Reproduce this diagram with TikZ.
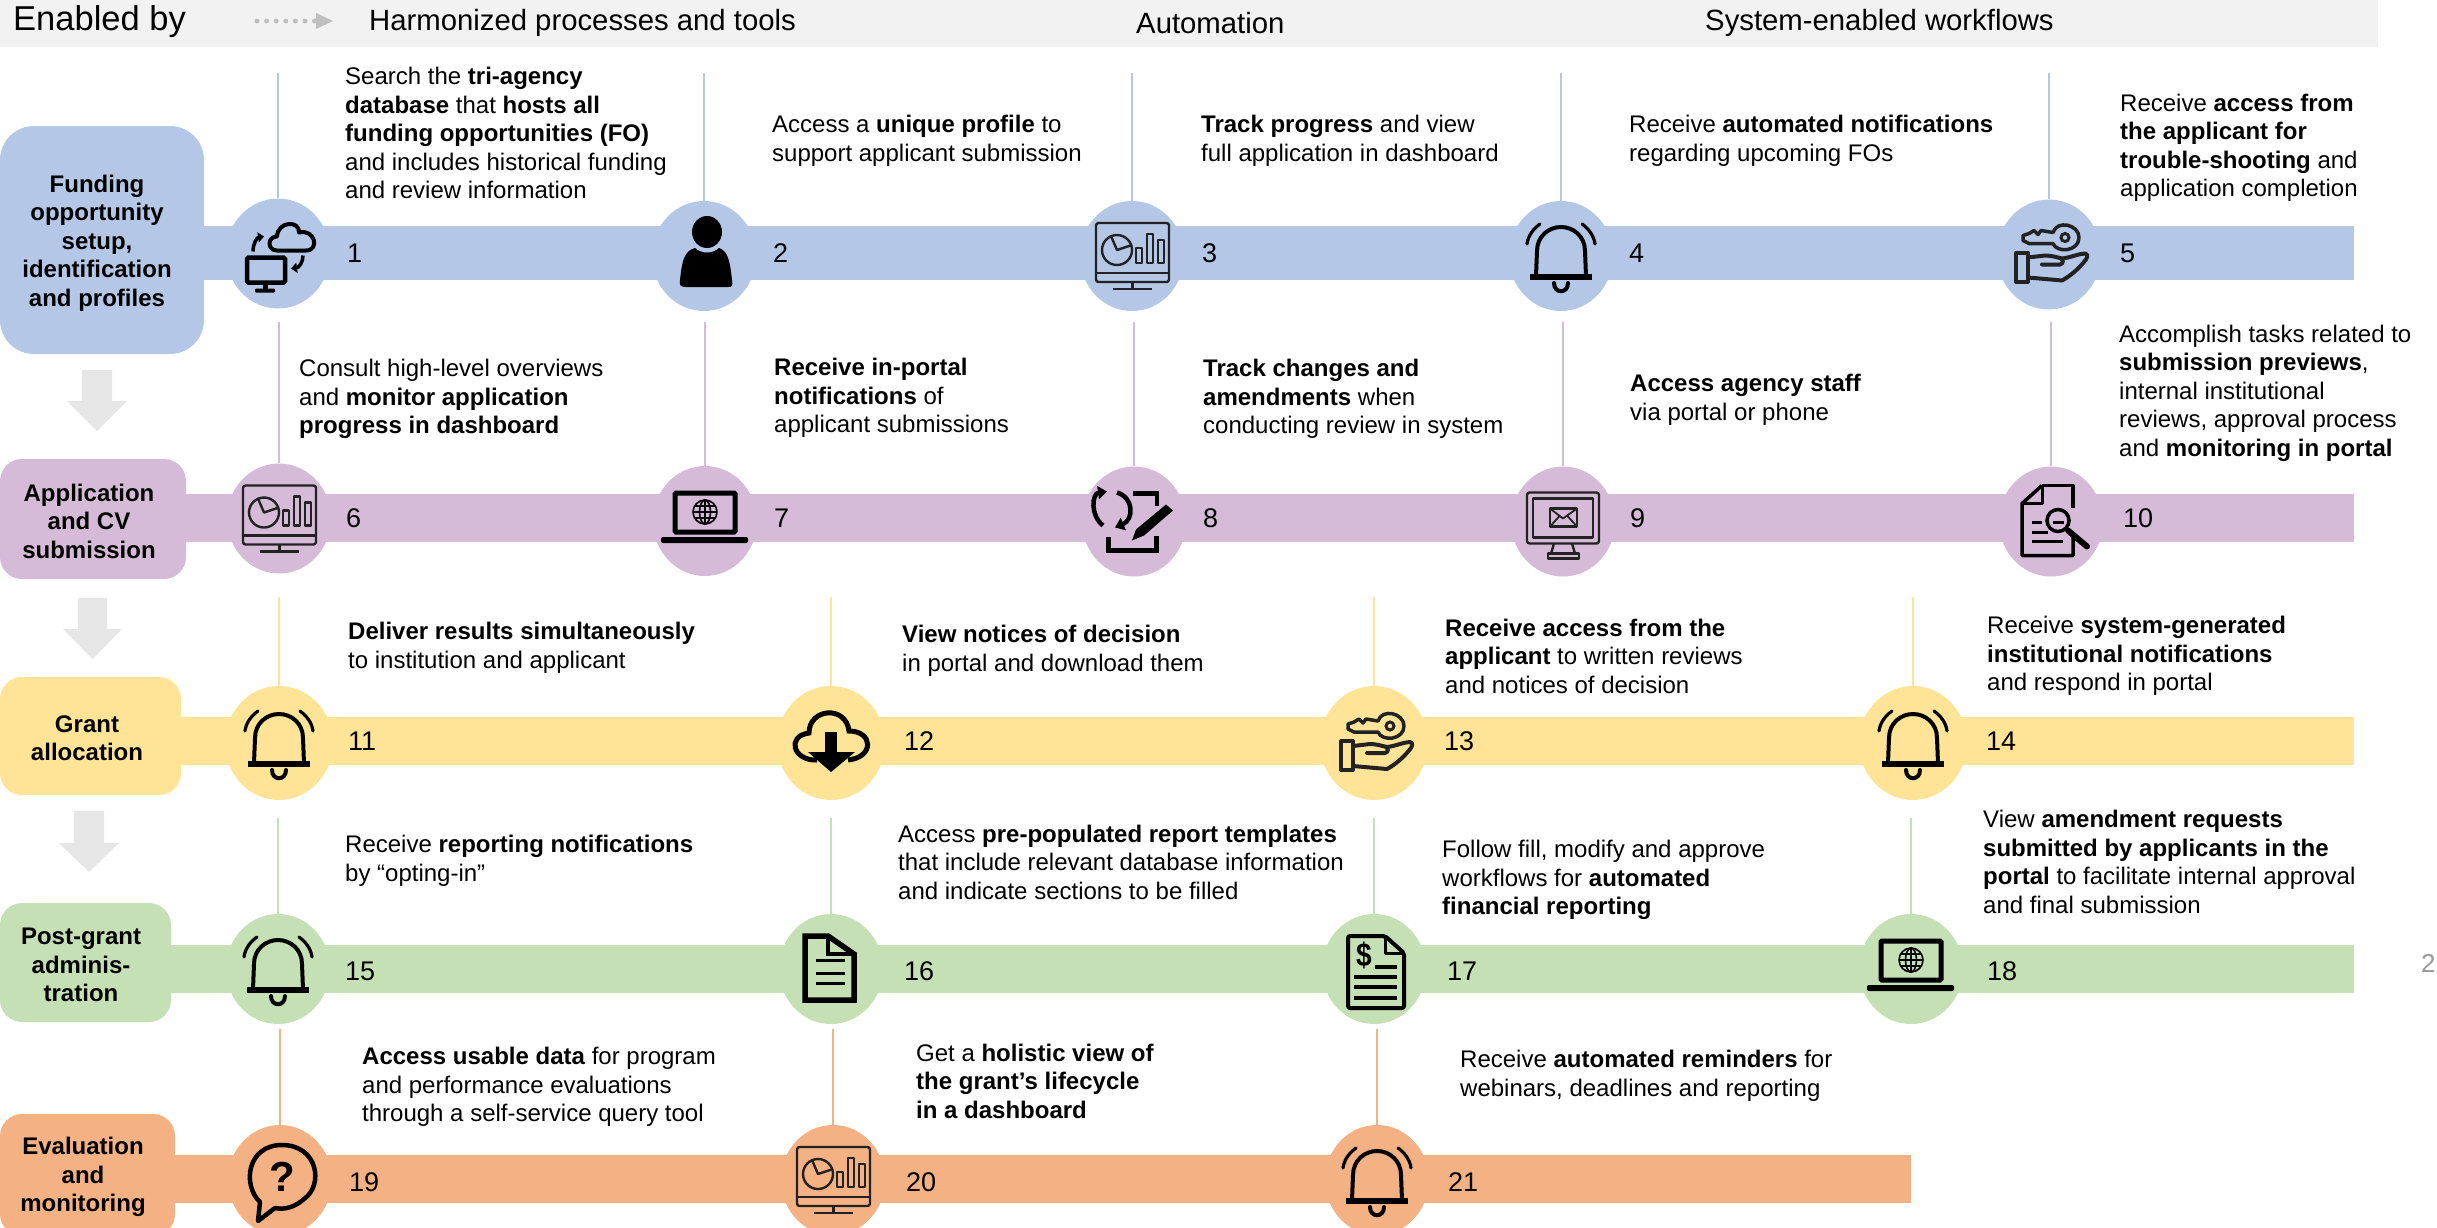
\documentclass[tikz,border=0pt]{standalone}
\usepackage{fontspec}
\setmainfont{Liberation Sans}
\usetikzlibrary{shapes.geometric,arrows.meta}
\definecolor{cblue}{HTML}{B4C7E7}
\definecolor{cpurple}{HTML}{D5BBD7}
\definecolor{cyellow}{HTML}{FFE497}
\definecolor{cgreen}{HTML}{C5E0B4}
\definecolor{corange}{HTML}{F4B183}
\definecolor{cgrayarrow}{HTML}{E6E6E6}
\definecolor{cheader}{HTML}{F2F2F2}
\definecolor{cdots}{HTML}{BFBFBF}
\definecolor{cline}{HTML}{222222}
\tikzset{
  x=1pt,y=-1pt,
  hub/.style={ellipse,inner sep=0pt,minimum width=104pt,minimum height=110pt},
  hubwide/.style={ellipse,inner sep=0pt,minimum width=108pt,minimum height=114pt},
  stem/.style={line width=2pt},
  txt/.style={anchor=west,align=left,inner sep=0pt,font=\fontsize{24}{28.5}\selectfont},
  num/.style={anchor=west,inner sep=0pt,font=\fontsize{27}{30}\selectfont},
  stage/.style={rectangle,rounded corners=#1,inner sep=0pt},
  stagetext/.style={anchor=center,inner sep=0pt,align=center,font=\fontsize{24}{28.5}\selectfont\bfseries},
  head/.style={anchor=west,inner sep=0pt,font=\fontsize{29.3}{32}\selectfont},
  iconline/.style={draw=black,line width=4pt,line join=round,line cap=round},
  iconthin/.style={draw=cline,line width=2.4pt,line join=round},
  iconcloud/.pic={
    \draw[iconline] (-1,-3) .. controls (-11,-3) and (-11,-17) .. (-1,-17)
       .. controls (0,-33) and (22,-33) .. (21,-21) .. controls (37,-25) and (42,-3) .. (28,-3) -- cycle;
    \draw[line width=4.5pt,rounded corners=1.5pt] (-31,4) rectangle (7,29);
    \fill (-15.5,31) rectangle (-10.5,36);
    \fill[rounded corners=1pt] (-23,35) rectangle (-3,39);
    \draw[line width=3.5pt,-{Triangle[length=6pt,width=10pt]}] (-25,-2) .. controls (-25,-10) and (-21,-16) .. (-14,-17);
    \draw[line width=3.5pt,-{Triangle[length=6pt,width=10pt]}] (25,2) .. controls (25,9) and (21,14) .. (13,15);
  },
  iconperson/.pic={
    \fill (3,-24) ellipse [x radius=15,y radius=16];
    \fill (-9,-8) .. controls (-3,-2) and (9,-2) .. (15,-8) .. controls (24,-5) and (26,5) .. (28,24)
      .. controls (29,30) and (28,31) .. (24,31) -- (-18,31) .. controls (-23,31) and (-25,30) .. (-24,24)
      .. controls (-22,5) and (-20,-5) .. (-9,-8) -- cycle;
  },
  icondash/.pic={
    \draw[iconthin,rounded corners=2.5pt] (-36,-33) rectangle (37,26);
    \draw[iconthin] (-36,17) -- (37,17);
    \draw[iconthin,line width=3pt] (0,26) -- (0,33);
    \draw[iconthin] (-19,33) -- (20,33);
    \draw[iconthin] (-15,-6) circle [radius=15];
    \draw[iconthin] (-21,-20) -- (-15,-6) -- (0,-11);
    \draw[iconthin] (4,-8) rectangle (10,7);
    \draw[iconthin] (15,-22) rectangle (21,7);
    \draw[iconthin] (26,-16) rectangle (32,7);
  },
  iconbell/.pic={
    \draw[iconline] (-25,20) -- (-24,-5) .. controls (-24,-20) and (-12,-29) .. (0,-29)
       .. controls (12,-29) and (24,-20) .. (24,-5) -- (25,20);
    \draw[line width=6pt] (-31,21) -- (31,21);
    \draw[iconline] (-7,27) .. controls (-7,38) and (7,38) .. (7,27);
    \draw[iconline,line width=3.2pt] (-34,-12) .. controls (-33,-20) and (-28,-27) .. (-21,-32);
    \draw[iconline,line width=3.2pt] (34,-12) .. controls (33,-20) and (28,-27) .. (21,-32);
  },
  iconkey/.pic={
    \draw[draw=cline,line width=3.5pt,line join=round] (4,-22) -- (-8,-24) -- (-11,-20) -- (-15,-24) -- (-20,-21) -- (-26,-19) -- (-26,-14) -- (-20,-11) -- (4,-11)
       .. controls (8,-1) and (30,-3) .. (30,-17) .. controls (30,-30) and (8,-35) .. (4,-22) -- cycle;
    \draw[draw=cline,line width=3pt] (16,-17) circle [radius=4];
    \draw[draw=cline,line width=4pt,line join=round] (-33,-2) rectangle (-21,27);
    \draw[draw=cline,line width=4pt,line join=round] (-21,3) -- (-4,1) .. controls (3,1) and (8,3) .. (13,4) .. controls (22,3) and (30,-1) .. (36,-1)
       .. controls (39,0) and (39,3) .. (37,5) .. controls (30,14) and (22,21) .. (13,26) -- (-21,23);
    \draw[draw=cline,line width=4pt,line cap=round] (-7,10) -- (11,10) .. controls (15,9) and (14,5) .. (12,4);
  },
  iconlaptop/.pic={
    \draw[line width=5pt,rounded corners=1pt] (-30,-28) rectangle (30,11);
    \fill[rounded corners=2pt] (-44,16) rectangle (43,22);
    \draw[line width=1.6pt] (0,-9) circle [radius=12];
    \draw[line width=1.6pt] (0,-9) ellipse [x radius=5.5,y radius=12];
    \draw[line width=1.6pt] (-12,-9) -- (12,-9) (-10,-15) -- (10,-15) (-10,-3) -- (10,-3) (0,-21) -- (0,3);
  },
  iconsync/.pic={
    \draw[line width=4.5pt,-{Triangle[length=9pt,width=13pt]}] (-31,4) .. controls (-44,-6) and (-42,-28) .. (-27,-30);
    \draw[line width=4.5pt,-{Triangle[length=9pt,width=13pt]}] (-17,-29) .. controls (0,-24) and (0,-2) .. (-19,6);
    \draw[line width=4.5pt,line join=miter] (-1,-28) -- (23,-28) -- (23,-16);
    \draw[line width=5pt,line join=miter] (-26,15) -- (-26,29) -- (22,29) -- (22,14);
    \fill (-2,19) -- (2,8) -- (32,-17) -- (39,-11) -- (10,14) -- cycle;
  },
  iconmail/.pic={
    \draw[iconthin,rounded corners=2.5pt] (-36,-29) rectangle (36,22);
    \draw[iconthin] (-30,-23) rectangle (30,16);
    \draw[iconthin] (-9,22) -- (-12,32) (9,22) -- (12,32);
    \draw[iconthin] (-15,32) rectangle (16,37);
    \draw[iconthin] (-13,-13) rectangle (14,5);
    \draw[iconthin,line width=1.8pt] (-13,-13) -- (0,-3) -- (14,-13) (-13,5) -- (-3,-6) (14,5) -- (4,-6);
  },
  iconsearch/.pic={
    \draw[line width=3.5pt,line join=round] (-9,-36) -- (22,-36) -- (22,-14);
    \draw[line width=3.5pt,line join=round] (22,14) -- (22,34) -- (-29,34) -- (-29,-18) -- (-9,-36);
    \draw[line width=3pt,line join=round] (-9,-36) -- (-9,-18) -- (-29,-18);
    \draw[line width=3.5pt] (7,-1) circle [radius=11];
    \draw[line width=3pt] (2,1) -- (13,1);
    \draw[line width=6pt,line cap=round] (17,9) -- (36,25);
    \draw[line width=2.5pt] (-19,1) -- (-9,1) (-19,11) -- (-3,11) (-19,20) -- (12,20);
  },
  icondown/.pic={
    \draw[line width=5pt,line cap=butt] (-14,17) .. controls (-38,18) and (-45,-7) .. (-22,-10)
      .. controls (-22,-35) and (15,-38) .. (18,-12) .. controls (42,-12) and (44,14) .. (17,17);
    \fill (-6,-11) rectangle (6,9);
    \fill (-23,9) -- (24,9) -- (0,29) -- cycle;
  },
  icondoc/.pic={
    \draw[line width=5.5pt,line join=miter] (-26,-33) -- (-3,-33) -- (23,-15) -- (23,31) -- (-26,31) -- cycle;
    \draw[line width=3.5pt,line join=miter] (-3,-33) -- (-3,-15) -- (23,-15);
    \draw[line width=3pt] (-15,-9) -- (14,-9) (-15,4) -- (14,4) (-15,14) -- (14,14);
  },
  icondollar/.pic={
    \draw[line width=4pt,line join=round,rounded corners=2pt] (-26,-33) -- (11,-33) -- (30,-16) -- (30,39) -- (-26,39) -- cycle;
    \draw[line width=3pt,line join=round] (11,-33) -- (11,-16) -- (30,-16);
    \node[inner sep=0pt,xscale=.85,font=\fontsize{33}{33}\selectfont\bfseries] (dollar) at (-10,-14) {\$};
    \draw[line width=3.5pt] (1,-2) -- (23,-2) (-20,8) -- (23,8) (-20,18) -- (23,18) (-20,29) -- (23,29);
  },
  iconquery/.pic={
    \draw[line width=4.5pt,line join=round] (-20,22) .. controls (-38,5) and (-33,-35) .. (2,-35)
      .. controls (38,-35) and (44,5) .. (24,19) .. controls (15,27) and (5,30) .. (-5,28) -- (-22,41) -- cycle;
    \node[inner sep=0pt,font=\fontsize{42}{42}\selectfont\bfseries] (qmark) at (2,-3) {?};
  },
}
\newcommand{\Hub}[7]{%
  \node[#7,fill=#5] (c#1) at (#2,#3) {};
  \coordinate (t#1) at (#2,#4);
  \draw[stem,draw=#5] (t#1) -- (c#1);
  \pic at (c#1) {#6};
}
\begin{document}
\begin{tikzpicture}
\useasboundingbox (0,0) rectangle (2437,1227);
\clip (0,0) rectangle (2437,1227);
% header
\fill[cheader] (0,0) rectangle (2378,47);
\node[head,font=\fontsize{34.5}{36}\selectfont] (h0) at (13,22) {Enabled by};
\coordinate (da) at (257,21);
\coordinate (db) at (316,21);
\draw[cdots,line width=5pt,line cap=round,dash pattern=on 0pt off 9.6pt] (da) -- (db);
\fill[cdots] (316,13) -- (333,21) -- (316,29) -- cycle;
\node[head] (h1) at (369,23) {Harmonized processes and tools};
\node[head] (h2) at (1136,23) {Automation};
\node[head] (h3) at (1705,23) {System-enabled workflows};
% bands
\fill[cblue] (100,226) rectangle (2354,280);
\fill[cpurple] (100,494) rectangle (2354,542);
\fill[cyellow] (100,717) rectangle (2354,765);
\fill[cgreen] (100,945) rectangle (2354,993);
\fill[corange] (100,1155) rectangle (1911,1203);
% stage boxes
\node[stage=34pt,fill=cblue,minimum width=204pt,minimum height=228pt] (s1) at (102,240) {};
\node[stagetext] (s1t) at (97,243) {Funding\\opportunity\\setup,\\identification\\and profiles};
\node[stage=22pt,fill=cpurple,minimum width=186pt,minimum height=120pt] (s2) at (93,519) {};
\node[stagetext] (s2t) at (89,521) {Application\\and CV\\submission};
\node[stage=22pt,fill=cyellow,minimum width=181pt,minimum height=118pt] (s3) at (90.5,736) {};
\node[stagetext] (s3t) at (87,738) {Grant\\allocation};
\node[stage=22pt,fill=cgreen,minimum width=171pt,minimum height=119pt] (s4) at (85.5,962.5) {};
\node[stagetext] (s4t) at (81,965) {Post-grant\\adminis-\\tration};
\node[stage=22pt,fill=corange,minimum width=175pt,minimum height=122pt] (s5) at (87.5,1175) {};
\node[stagetext] (s5t) at (83,1177) {Evaluation\\and\\monitoring};
% grey arrows
\fill[cgrayarrow] (82,370) -- (112,370) -- (112,401) -- (127,401) -- (97,431) -- (67,401) -- (82,401) -- cycle;
\fill[cgrayarrow] (78,598) -- (107,598) -- (107,629) -- (122,629) -- (92.5,659) -- (63,629) -- (78,629) -- cycle;
\fill[cgrayarrow] (74,811) -- (104,811) -- (104,843) -- (119,843) -- (89,872) -- (59,843) -- (74,843) -- cycle;
% hubs
\Hub{1}{278}{253.5}{73}{cblue}{iconcloud}{hub}
\Hub{2}{704}{256}{73}{cblue}{iconperson}{hub}
\Hub{3}{1132}{256}{73}{cblue}{icondash}{hub}
\Hub{4}{1561}{256}{73}{cblue}{iconbell}{hub}
\Hub{5}{2049}{254.5}{73}{cblue}{iconkey}{hub}
\Hub{6}{279}{518.5}{322}{cpurple}{icondash}{hub}
\Hub{7}{705}{521}{322}{cpurple}{iconlaptop}{hub}
\Hub{8}{1134}{521.5}{322}{cpurple}{iconsync}{hub}
\Hub{9}{1563}{521.5}{322}{cpurple}{iconmail}{hub}
\Hub{10}{2051}{521.5}{322}{cpurple}{iconsearch}{hub}
\Hub{11}{279}{743}{597}{cyellow}{iconbell}{hubwide}
\Hub{12}{831}{743}{597}{cyellow}{icondown}{hubwide}
\Hub{13}{1374}{743}{597}{cyellow}{iconkey}{hubwide}
\Hub{14}{1913}{743}{597}{cyellow}{iconbell}{hubwide}
\Hub{15}{278}{969}{818}{cgreen}{iconbell}{hub}
\Hub{16}{831}{969}{818}{cgreen}{icondoc}{hub}
\Hub{17}{1374}{969}{818}{cgreen}{icondollar}{hub}
\Hub{18}{1911}{969}{818}{cgreen}{iconlaptop}{hub}
\Hub{19}{280}{1180}{1029}{corange}{iconquery}{hub}
\Hub{20}{833}{1180}{1029}{corange}{icondash}{hub}
\Hub{21}{1377}{1180}{1029}{corange}{iconbell}{hub}
% numbers
\node[num] (n1) at (347,253) {1};
\node[num] (n2) at (773,253) {2};
\node[num] (n3) at (1202,253) {3};
\node[num] (n4) at (1629,253) {4};
\node[num] (n5) at (2120,253) {5};
\node[num] (n6) at (346,518) {6};
\node[num] (n7) at (774,518) {7};
\node[num] (n8) at (1203,518) {8};
\node[num] (n9) at (1630,518) {9};
\node[num] (n10) at (2123,518) {10};
\node[num] (n11) at (348,741) {11};
\node[num] (n12) at (904,741) {12};
\node[num] (n13) at (1444,741) {13};
\node[num] (n14) at (1986,741) {14};
\node[num] (n15) at (345,971) {15};
\node[num] (n16) at (904,971) {16};
\node[num] (n17) at (1447,971) {17};
\node[num] (n18) at (1987,971) {18};
\node[num] (n19) at (349,1182) {19};
\node[num] (n20) at (906,1182) {20};
\node[num] (n21) at (1448,1182) {21};
% texts
\node[txt] (x1) at (345,133) {Search the \textbf{tri-agency}\\\textbf{database} that \textbf{hosts all}\\\textbf{funding opportunities (FO)}\\and includes historical funding\\and review information};
\node[txt] (x2) at (772,141) {Access a \textbf{unique profile} to\\support applicant submission};
\node[txt] (x3) at (1201,141) {\textbf{Track progress} and view\\full application in dashboard};
\node[txt] (x4) at (1629,141) {Receive \textbf{automated notifications}\\regarding upcoming FOs};
\node[txt] (x5) at (2120,148) {Receive \textbf{access from}\\\textbf{the applicant for}\\\textbf{trouble-shooting} and\\application completion};
\node[txt] (x6) at (299,399) {Consult high-level overviews\\and \textbf{monitor application}\\\textbf{progress in dashboard}};
\node[txt] (x7) at (774,398) {\textbf{Receive in-portal}\\\textbf{notifications} of\\applicant submissions};
\node[txt] (x8) at (1203,399) {\textbf{Track changes and}\\\textbf{amendments} when\\conducting review in system};
\node[txt] (x9) at (1630,400) {\textbf{Access agency staff}\\via portal or phone};
\node[txt] (x10) at (2119,393) {Accomplish tasks related to\\\textbf{submission previews},\\internal institutional\\reviews, approval process\\and \textbf{monitoring in portal}};
\node[txt] (x11) at (348,648) {\textbf{Deliver results simultaneously}\\to institution and applicant};
\node[txt] (x12) at (902,651) {\textbf{View notices of decision}\\in portal and download them};
\node[txt] (x13) at (1445,656) {\textbf{Receive access from the}\\\textbf{applicant} to written reviews\\and notices of decision};
\node[txt] (x14) at (1987,656) {Receive \textbf{system-generated}\\\textbf{institutional notifications}\\and respond in portal};
\node[txt] (x15) at (345,861) {Receive \textbf{reporting notifications}\\by “opting-in”};
\node[txt] (x16) at (898,862) {Access \textbf{pre-populated report templates}\\that include relevant database information\\and indicate sections to be filled};
\node[txt] (x17) at (1442,880) {Follow fill, modify and approve\\workflows for \textbf{automated}\\\textbf{financial reporting}};
\node[txt] (x18) at (1983,862) {View \textbf{amendment requests}\\\textbf{submitted by applicants in the}\\\textbf{portal} to facilitate internal approval\\and final submission};
\node[txt] (x19) at (362,1087) {\textbf{Access usable data} for program\\and performance evaluations\\through a self-service query tool};
\node[txt] (x20) at (916,1081) {Get a \textbf{holistic view of}\\\textbf{the grant’s lifecycle}\\\textbf{in a dashboard}};
\node[txt] (x21) at (1460,1076) {Receive \textbf{automated reminders} for\\webinars, deadlines and reporting};
\node[anchor=west,inner sep=0pt,text=gray!80,font=\fontsize{26}{28}\selectfont] (pg) at (2421,963) {2};
\end{tikzpicture}
\end{document}
